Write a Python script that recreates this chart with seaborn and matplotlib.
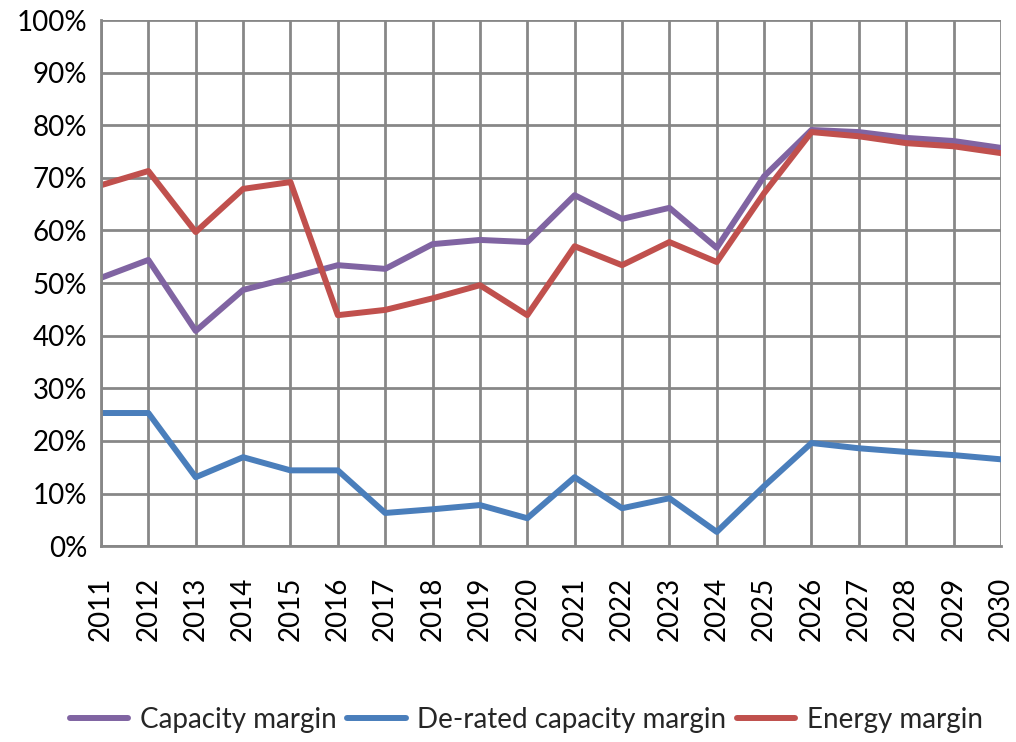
import matplotlib
matplotlib.use("Agg")
import matplotlib.pyplot as plt
import seaborn as sns
import pandas as pd
from matplotlib.ticker import MultipleLocator, PercentFormatter

years = list(range(2011, 2031))
capacity_margin = [51.0, 54.4, 40.9, 48.7, 51.0, 53.4, 52.7, 57.4, 58.2, 57.8,
                   66.7, 62.2, 64.3, 56.7, 70.3, 79.1, 78.7, 77.6, 77.0, 75.7]
derated_margin = [25.3, 25.3, 13.1, 16.9, 14.4, 14.4, 6.3, 7.0, 7.8, 5.3,
                  13.1, 7.2, 9.1, 2.7, 11.4, 19.6, 18.6, 17.9, 17.3, 16.5]
energy_margin = [68.6, 71.3, 59.7, 67.9, 69.2, 43.9, 44.9, 47.1, 49.6, 43.9,
                 57.0, 53.4, 57.8, 54.0, 67.1, 78.7, 77.9, 76.6, 76.0, 74.7]
series_names = ["Capacity margin", "De-rated capacity margin", "Energy margin"]
series_colors = ["#8064A2", "#4A7EBB", "#C0504D"]

df = pd.DataFrame({
    "year": years * 3,
    "value": capacity_margin + derated_margin + energy_margin,
    "series": [series_names[0]] * 20 + [series_names[1]] * 20 + [series_names[2]] * 20,
})

sns.set_style("white")
plt.rcParams["font.family"] = ["Lato", "DejaVu Sans"]

fig = plt.figure(figsize=(10.16, 7.42), dpi=100)
ax = fig.add_axes([0.0994, 0.264, 0.8858, 0.709])

sns.lineplot(data=df, x="year", y="value", hue="series", hue_order=series_names,
             palette=series_colors, linewidth=4.3, ax=ax, legend=True)

ax.set_xlim(2011, 2030)
ax.set_ylim(0, 100)
ax.yaxis.set_major_locator(MultipleLocator(10))
ax.yaxis.set_major_formatter(PercentFormatter(decimals=0))
ax.set_xticks(years)
ax.set_xticklabels([str(y) for y in years], rotation=90)
ax.set_xlabel("")
ax.set_ylabel("")

grid_color = "#878787"
ax.grid(True, color=grid_color, linewidth=2.0)
ax.set_axisbelow(True)
for side in ["left", "bottom", "right", "top"]:
    ax.spines[side].set_visible(side in ("left", "bottom"))
    ax.spines[side].set_color(grid_color)
    ax.spines[side].set_linewidth(2.0)
ax.tick_params(axis="both", which="major", length=6, width=2.0, color=grid_color,
               labelsize=20, labelcolor="black", pad=4)
ax.tick_params(axis="x", pad=16)

handles, labels = ax.get_legend_handles_labels()
ax.get_legend().remove()
fig.legend(handles, labels, loc="center", bbox_to_anchor=(0.518, 0.030),
           ncol=3, frameon=False, fontsize=20, handlelength=2.1,
           handletextpad=0.4, columnspacing=0.4)

fig.savefig("out.png", dpi=100)
